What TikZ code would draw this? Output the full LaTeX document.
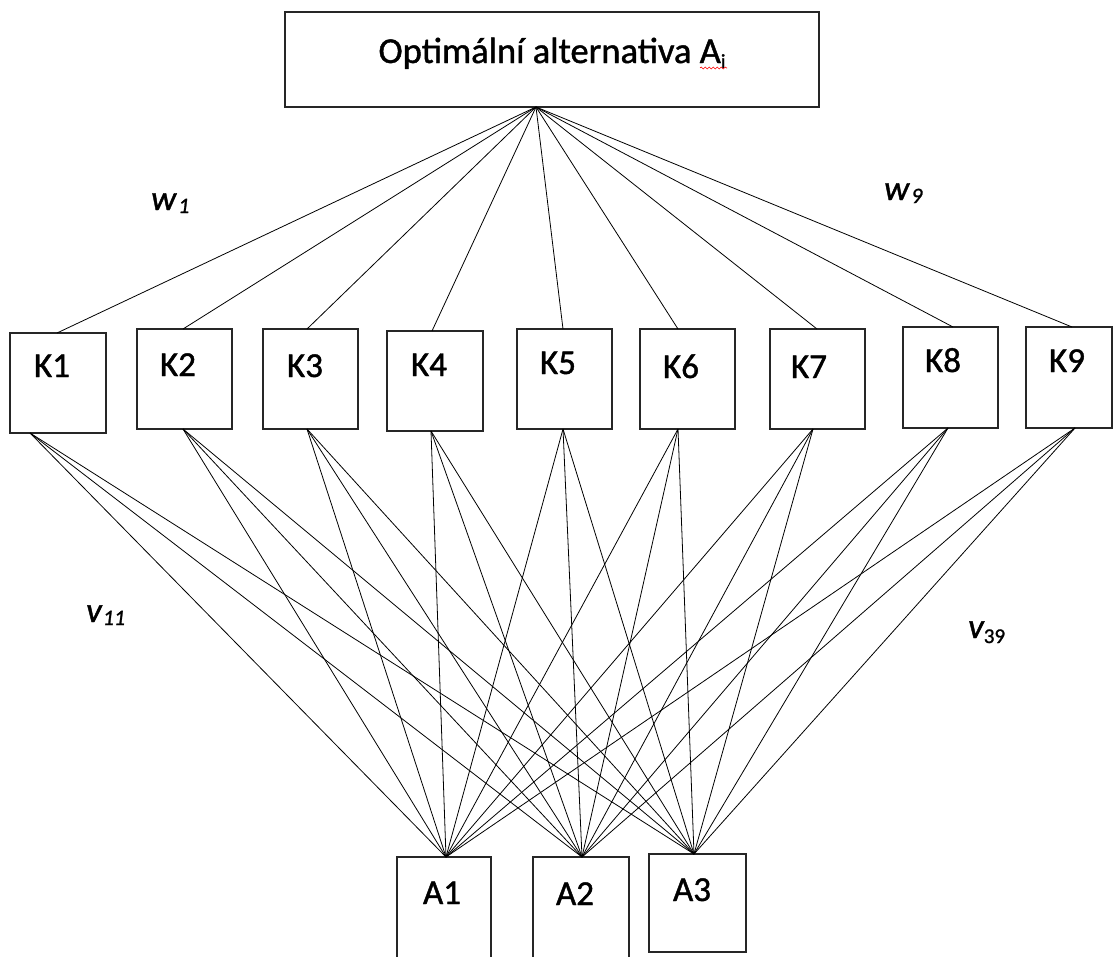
\documentclass[tikz,border=0pt]{standalone}
\usepackage{fontspec}
\setmainfont{Carlito}[FakeBold=1.2]
\usetikzlibrary{decorations.pathmorphing}
\begin{document}
\begin{tikzpicture}[x=1pt,y=-1pt,
  box/.style={draw=black!85, line width=1.3pt, inner sep=0pt},
  lbl/.style={anchor=base, inner sep=0pt, font=\fontsize{35}{40}\selectfont},
  ital/.style={anchor=base west, inner sep=0pt, font=\fontsize{35}{40}\selectfont\itshape},
  wire/.style={draw=black, line width=0.8pt}]
\useasboundingbox (0,0) rectangle (1113,956);
\clip (0,0) rectangle (1113,956);
\fill[white] (0,0) rectangle (1113,956);

% boxes
\node[box, minimum width=534pt, minimum height=95pt] (top) at (552,59.5) {};
\node[box, minimum width=96pt, minimum height=100pt] (K1) at (58,383) {};
\node[box, minimum width=95pt, minimum height=100pt] (K2) at (184.5,379) {};
\node[box, minimum width=95pt, minimum height=100pt] (K3) at (310.5,379) {};
\node[box, minimum width=96pt, minimum height=100pt] (K4) at (435,381) {};
\node[box, minimum width=95pt, minimum height=100pt] (K5) at (564.5,379) {};
\node[box, minimum width=95pt, minimum height=100pt] (K6) at (687.5,379) {};
\node[box, minimum width=95pt, minimum height=100pt] (K7) at (817.5,379) {};
\node[box, minimum width=95pt, minimum height=101pt] (K8) at (950.5,377.5) {};
\node[box, minimum width=86pt, minimum height=101pt] (K9) at (1069,377.5) {};
\node[box, minimum width=94pt, minimum height=120pt] (A1) at (444,917) {};
\node[box, minimum width=96pt, minimum height=120pt] (A2) at (581,917) {};
\node[box, minimum width=97pt, minimum height=98pt] (A3) at (697.5,903) {};

% connector points
\coordinate (T) at (536,107);
\coordinate (K1t) at (57,333);   \coordinate (K1b) at (30,433);
\coordinate (K2t) at (183,329);  \coordinate (K2b) at (183,429);
\coordinate (K3t) at (307,329);  \coordinate (K3b) at (307,429);
\coordinate (K4t) at (432,331);  \coordinate (K4b) at (431,431);
\coordinate (K5t) at (563,329);  \coordinate (K5b) at (563,429);
\coordinate (K6t) at (678,329);  \coordinate (K6b) at (678,429);
\coordinate (K7t) at (817,329);  \coordinate (K7b) at (813,429);
\coordinate (K8t) at (953,327);  \coordinate (K8b) at (948,428);
\coordinate (K9t) at (1072,327); \coordinate (K9b) at (1075,428);
\coordinate (A1t) at (446,857);
\coordinate (A2t) at (582,857);
\coordinate (A3t) at (694,854);

\foreach \k in {1,...,9} {
  \draw[wire] (T) -- (K\k t);
  \draw[wire] (K\k b) -- (A1t);
  \draw[wire] (K\k b) -- (A2t);
  \draw[wire] (K\k b) -- (A3t);
}

% texts
\node[lbl, font=\fontsize{36.5}{40}\selectfont] (ttop) at (552,63) {Optimální alternativa A\raisebox{-5pt}{\fontsize{20}{20}\selectfont i}};
\draw[red, line width=0.6pt, decorate, decoration={snake, amplitude=1pt, segment length=4pt}] (700,68) -- (727,68);
\node[lbl] (tK1) at (52,377) {K1};
\node[lbl] (tK2) at (178,376) {K2};
\node[lbl] (tK3) at (305,377) {K3};
\node[lbl] (tK4) at (429,376) {K4};
\node[lbl] (tK5) at (558,374) {K5};
\node[lbl] (tK6) at (681,378) {K6};
\node[lbl] (tK7) at (809,378) {K7};
\node[lbl] (tK8) at (943,372) {K8};
\node[lbl] (tK9) at (1067,372) {K9};
\node[lbl] (tA1) at (442,904) {A1};
\node[lbl] (tA2) at (575,905) {A2};
\node[lbl] (tA3) at (692,901) {A3};

\node[ital] (w1) at (151,210) {w\hspace{2pt}\raisebox{-3pt}{\fontsize{22}{22}\selectfont 1}};
\node[ital] (w9) at (884,200) {w\hspace{2pt}\raisebox{-3pt}{\fontsize{22}{22}\selectfont 9}};
\node[ital] (v11) at (86,622) {v\hspace{1pt}\raisebox{-3pt}{\fontsize{22}{22}\selectfont 11}};
\node[ital] (v39) at (968,638) {v\raisebox{-5pt}{\fontsize{21}{21}\selectfont\upshape 39}};
\end{tikzpicture}
\end{document}
